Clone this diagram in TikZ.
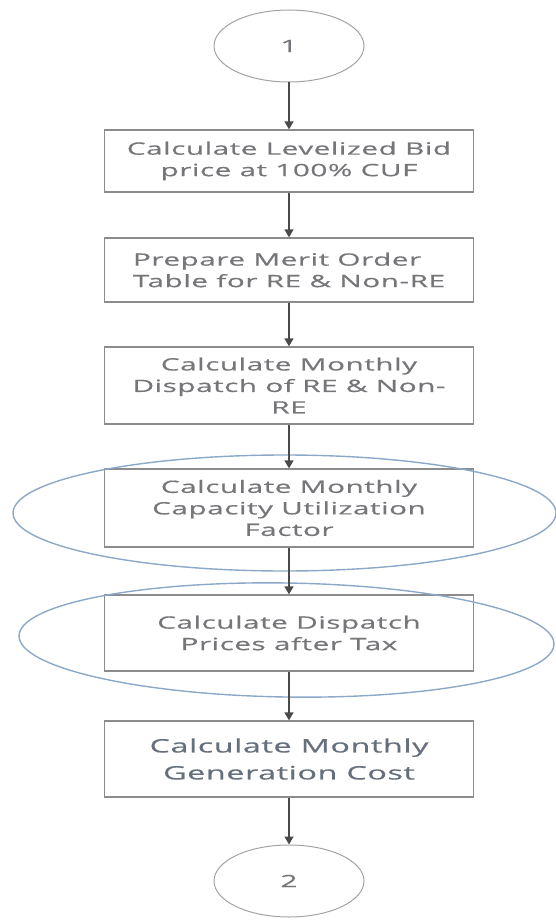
\documentclass[tikz,border=0pt]{standalone}
\usepackage{fontspec}
\setmainfont{Open Sans}[FakeStretch=1.75, LetterSpace=3, FakeBold=0.6]
\usetikzlibrary{shapes.geometric,arrows.meta}
\definecolor{boxgray}{HTML}{8C8C8C}
\definecolor{txtgray}{HTML}{76767A}
\definecolor{txtdark}{HTML}{66707C}
\definecolor{ringblue}{HTML}{8CA8C8}
\definecolor{linegray}{HTML}{4A4A4A}
\begin{document}
\begin{tikzpicture}[x=1pt,y=-1pt,
  stepbox/.style={draw=boxgray, line width=1.3pt, minimum width=369pt,
    inner sep=0pt, text=txtgray, align=center,
    font=\fontsize{17}{21.5}\selectfont},
  connector/.style={ellipse, draw=boxgray!80, line width=1pt,
    minimum width=150pt, minimum height=72pt, inner sep=0pt,
    text=txtgray, font=\fontsize{17}{20}\selectfont},
  ring/.style={ellipse, draw=ringblue, line width=1.4pt, inner sep=0pt},
  flow/.style={draw=linegray, line width=1.4pt,
    -{Triangle[width=9pt,length=8pt]}}]
\useasboundingbox (0,0) rectangle (556,920);

% off-page connectors
\node[connector] (c1) at (289,46) {1};
\node[connector] (c2) at (289,881) {2};

% process steps
\node[stepbox, minimum height=62pt] (b1) at (289,161)
  {Calculate Levelized Bid\\price at 100\% CUF};
\node[stepbox, minimum height=64pt, align=left] (b2) at (289,270)
  {Prepare Merit Order\\Table for RE \& Non-RE};
\node[stepbox, minimum height=77pt] (b3) at (289,385.5)
  {Calculate Monthly\\Dispatch of RE \& Non-\\RE};
\node[stepbox, minimum height=78pt] (b4) at (289,508)
  {Calculate Monthly\\Capacity Utilization\\Factor};
\node[stepbox, minimum height=76pt] (b5) at (289,633)
  {Calculate Dispatch\\Prices after Tax};
\node[stepbox, minimum height=76pt, text=txtdark,
  font=\fontsize{18.5}{27}\selectfont] (b6) at (289,759)
  {Calculate Monthly\\Generation Cost};

% highlight rings around two steps
\node[ring, minimum width=543pt, minimum height=116pt] (h1) at (284.5,513) {};
\node[ring, minimum width=535pt, minimum height=114pt, rotate=-0.9] (h2) at (286.5,640) {};

% flow
\draw[flow] (c1) -- (b1);
\draw[flow] (b1) -- (b2);
\draw[flow] (b2) -- (b3);
\draw[flow] (b3) -- (b4);
\draw[flow] (b4) -- (b5);
\draw[flow] (b5) -- (b6);
\draw[flow] (b6) -- (c2);
\end{tikzpicture}
\end{document}
